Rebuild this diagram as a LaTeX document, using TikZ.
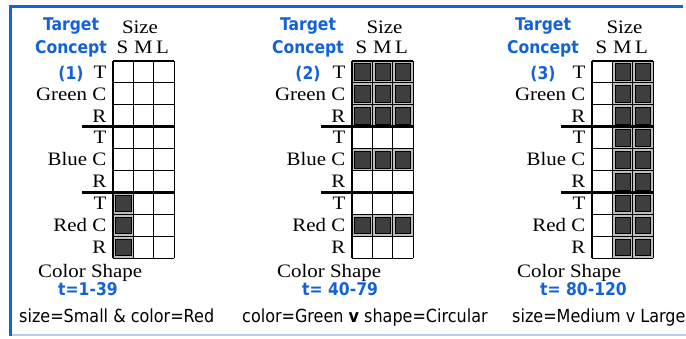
\documentclass[tikz,border=0pt]{standalone}
\usepackage{fontspec}
\newfontfamily\tsans{DejaVu Sans}[FakeStretch=0.89]
\newfontfamily\tserif{Liberation Serif}[FakeStretch=1.1]
\definecolor{tblue}{RGB}{18,98,218}
\definecolor{lblue}{RGB}{184,204,240}
\definecolor{cellgray}{RGB}{190,190,190}
\definecolor{darkcell}{RGB}{62,62,62}
\tikzset{
  serif/.style={font=\tserif\fontsize{19}{19}\selectfont, inner sep=0pt},
  bluelab/.style={font=\tsans\bfseries\fontsize{17.5}{18}\selectfont, text=tblue, inner sep=0pt},
  bottomlab/.style={font=\tsans\fontsize{18}{18}\selectfont, inner sep=0pt},
  gridline/.style={line width=1.1pt, black},
  sepline/.style={line width=3pt, black},
  graycell/.style={fill=cellgray},
  darkbox/.style={fill=darkcell, draw=black, line width=0.6pt},
}
\def\cw{20.4}
\def\rh{21.9}
\def\gt{61}
% #1 prefix, #2 grid left, #3 heading x, #4 number, #5 Size x, #6 time text, #7 time x, #8 filled cells
\newcommand\mypanel[8]{%
  \foreach \c/\r in {#8} {
    \fill[graycell] ({#2+\c*\cw},{\gt+\r*\rh}) rectangle ++(\cw,\rh);
    \filldraw[darkbox] ({#2+\c*\cw+2.6},{\gt+\r*\rh+2.6}) rectangle ++({\cw-5.2},{\rh-5.2});
  }
  \foreach \i in {0,...,9} \draw[gridline] (#2,{\gt+\i*\rh}) -- ++({3*\cw},0);
  \foreach \j in {0,...,3} \draw[gridline] ({#2+\j*\cw},\gt) -- ++(0,{9*\rh});
  \draw[sepline] ({#2-31},{\gt+3*\rh}) -- ++({31+3*\cw},0);
  \draw[sepline] ({#2-31},{\gt+6*\rh}) -- ++({31+3*\cw},0);
  \node[bluelab, anchor=base] (#1target) at (#3,30) {Target};
  \node[bluelab, anchor=base] (#1concept) at (#3,53.5) {Concept};
  \node[bluelab, anchor=base] (#1num) at (#3,79) {(#4)};
  \node[serif, anchor=base] (#1size) at (#5,33) {Size};
  \node[serif, anchor=base] (#1S) at ({#2+9.5},53.5) {S};
  \node[serif, anchor=base] (#1M) at ({#2+30.5},53.5) {M};
  \node[serif, anchor=base] (#1L) at ({#2+49.5},53.5) {L};
  \foreach \r/\lab in {0/T,1/Green C,2/R,3/T,4/Blue C,5/R,6/T,7/Red C,8/R}
    \node[serif, anchor=base east] (#1row\r) at ({#2-6.5},{\gt+\r*\rh+\rh/2+6.3}) {\lab};
  \node[serif, anchor=base west] (#1axis) at ({#2-75},277) {Color Shape};
  \node[bluelab, anchor=base west] (#1time) at (#7,295) {#6};
}
\begin{document}
\begin{tikzpicture}[x=1pt,y=-1pt]
\useasboundingbox (0,0) rectangle (686,338);
\fill[white] (0,0) rectangle (686,338);
\draw[lblue, line width=1.5pt] (10,335) -- (686,335);
\draw[tblue, line width=3pt] (10,335.5) -- (10,6.5) -- (683,6.5);

\mypanel{a}{113}{71}{1}{140}{t=1-39}{58}{0/6,0/7,0/8}
\mypanel{b}{352}{308}{2}{384.5}{t= 40-79}{302}{0/0,1/0,2/0,0/1,1/1,2/1,0/2,1/2,2/2,0/4,1/4,2/4,0/7,1/7,2/7}
\mypanel{c}{592}{543}{3}{624.5}{t= 80-120}{540}{1/0,1/1,1/2,1/3,1/4,1/5,1/6,1/7,1/8,2/0,2/1,2/2,2/3,2/4,2/5,2/6,2/7,2/8}

\node[bottomlab, anchor=base west] (abottom) at (19,322) {size=Small \& color=Red};
\node[bottomlab, anchor=base west] (bbottom) at (242,322) {color=Green {\bfseries v} shape=Circular};
\node[bottomlab, anchor=base west] (cbottom) at (512,322) {size=Medium v Large};
\end{tikzpicture}
\end{document}
